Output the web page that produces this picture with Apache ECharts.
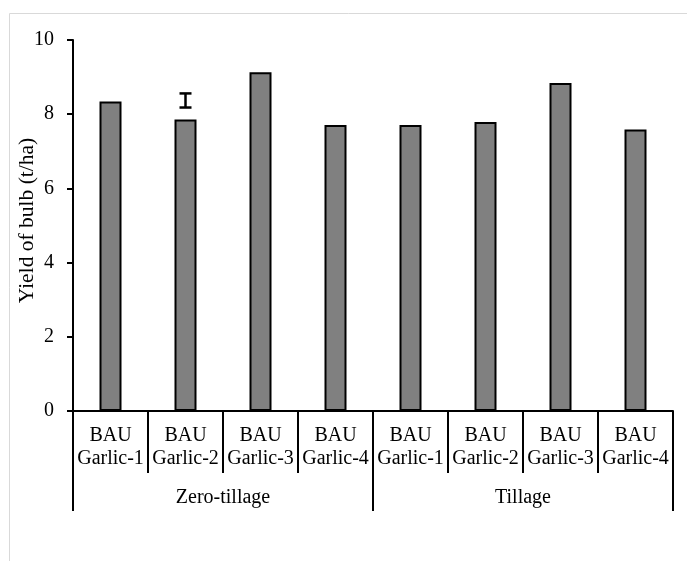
<!DOCTYPE html>
<html>
<head>
<meta charset="utf-8">
<script src="https://cdn.jsdelivr.net/npm/echarts@6/dist/echarts.min.js"></script>
<style>
  html, body { margin: 0; padding: 0; background: #fff; }
  #chart { width: 687px; height: 561px; }
</style>
</head>
<body>
<div id="chart"></div>
<script>
// data
const varieties = ["BAU\nGarlic-1", "BAU\nGarlic-2", "BAU\nGarlic-3", "BAU\nGarlic-4",
                   "BAU\nGarlic-1", "BAU\nGarlic-2", "BAU\nGarlic-3", "BAU\nGarlic-4"];
const groups = ["Zero-tillage", "Tillage"];
const yieldValues = [8.34, 7.86, 9.13, 7.71, 7.71, 7.79, 8.84, 7.59];
// the one error bar shown: [category index, low, high]
const errorBars = [[1, 8.18, 8.56]];

const font = "Liberation Serif";
const myChart = echarts.init(document.getElementById("chart"));

const option = {
  animation: false,
  textStyle: { fontFamily: font, color: "#000" },
  graphic: [
    {
      type: "rect",
      shape: { x: 9.5, y: 13.5, width: 700, height: 600 },
      style: { fill: null, stroke: "#d9d9d9", lineWidth: 1 },
      silent: true,
    },
  ],
  grid: { left: 73, right: 14, top: 40, bottom: 150, containLabel: false, outerBoundsMode: "none" },
  xAxis: [
    {
      type: "category",
      data: varieties,
      axisLine: { lineStyle: { color: "#000", width: 2 } },
      axisTick: { show: true, interval: 0, length: 62, lineStyle: { color: "#000", width: 2 } },
      axisLabel: {
        interval: 0,
        margin: 13,
        color: "#000",
        fontFamily: font,
        fontSize: 20,
        lineHeight: 23,
      },
    },
    {
      type: "category",
      data: groups,
      position: "bottom",
      axisLine: { show: false },
      axisTick: { show: true, interval: 0, length: 100, lineStyle: { color: "#000", width: 2 } },
      axisLabel: { interval: 0, margin: 77, color: "#000", fontFamily: font, fontSize: 20 },
    },
  ],
  yAxis: {
    type: "value",
    min: 0,
    max: 10,
    interval: 2,
    name: "Yield of bulb (t/ha)",
    nameLocation: "middle",
    nameGap: 35,
    nameMoveOverlap: false,
    nameTextStyle: { color: "#000", fontFamily: font, fontSize: 21.5, padding: [0, 0, 0, 10] },
    splitLine: { show: false },
    axisLine: { show: true, lineStyle: { color: "#000", width: 2 } },
    axisTick: { show: true, length: 6, lineStyle: { color: "#000", width: 2 } },
    axisLabel: { margin: 19, color: "#000", fontFamily: font, fontSize: 20 },
  },
  series: [
    {
      type: "bar",
      data: yieldValues,
      barWidth: 22,
      itemStyle: { color: "#808080", borderColor: "#000", borderWidth: 2 },
    },
    {
      type: "custom",
      data: errorBars,
      renderItem: (params, api) => {
        const lo = api.coord([api.value(0), api.value(1)]);
        const hi = api.coord([api.value(0), api.value(2)]);
        const half = 6;
        const style = { stroke: "#000", lineWidth: 2.5 };
        return {
          type: "group",
          children: [
            { type: "line", shape: { x1: lo[0], y1: lo[1], x2: hi[0], y2: hi[1] }, style },
            { type: "line", shape: { x1: lo[0] - half, y1: lo[1], x2: lo[0] + half, y2: lo[1] }, style },
            { type: "line", shape: { x1: hi[0] - half, y1: hi[1], x2: hi[0] + half, y2: hi[1] }, style },
          ],
        };
      },
      z: 5,
    },
  ],
};
myChart.setOption(option);
</script>
</body>
</html>
